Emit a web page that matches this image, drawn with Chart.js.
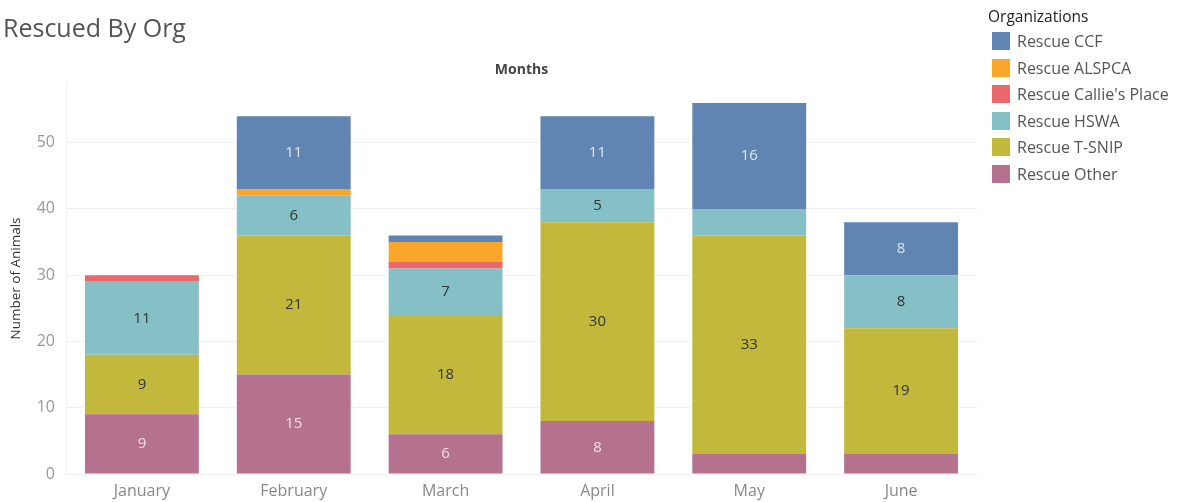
<!DOCTYPE html>
<html>
<head>
<meta charset="utf-8">
<script src="https://cdn.jsdelivr.net/npm/chart.js@4.4.1/dist/chart.umd.min.js"></script>
<style>
  html, body { margin: 0; padding: 0; background: #fff; }
  #wrap { position: relative; width: 1177px; height: 502px; }
  #legend { position: absolute; left: 988px; top: 5px; font-family: "Open Sans", sans-serif; }
  #legend .ttl { font-size: 15.5px; color: #222; height: 23px; line-height: 22px; }
  #legend .item { display: flex; align-items: center; height: 26.5px; margin-left: 4px; }
  #legend .sw { width: 18px; height: 18px; margin-right: 7px; }
  #legend .lbl { font-size: 16px; color: #555; }
</style>
</head>
<body>
<div id="wrap">
  <canvas id="rescueChart" width="1177" height="502"></canvas>
  <div id="legend"></div>
</div>
<script>
// data
const months = ['January', 'February', 'March', 'April', 'May', 'June'];
const rescueOther = [9, 15, 6, 8, 3, 3];
const rescueTSnip = [9, 21, 18, 30, 33, 19];
const rescueHswa = [11, 6, 7, 5, 4, 8];
const rescueCallies = [1, 0, 1, 0, 0, 0];
const rescueAlspca = [0, 1, 3, 0, 0, 0];
const rescueCcf = [0, 11, 1, 11, 16, 8];
const yTicks = [0, 10, 20, 30, 40, 50];

// stacking order: bottom first
const orgs = [
  { label: 'Rescue Other', data: rescueOther, color: '#b5728e', text: '#f6dbe5' },
  { label: 'Rescue T-SNIP', data: rescueTSnip, color: '#c2b93c', text: '#333333' },
  { label: 'Rescue HSWA', data: rescueHswa, color: '#86c0c7', text: '#333333' },
  { label: "Rescue Callie's Place", data: rescueCallies, color: '#e8686b', text: '#ffffff' },
  { label: 'Rescue ALSPCA', data: rescueAlspca, color: '#f9a72b', text: '#333333' },
  { label: 'Rescue CCF', data: rescueCcf, color: '#6085b2', text: '#dbe6f3' }
];

const FONT = '"Open Sans", sans-serif';

// values inside the segments (only big ones, like the original)
const segmentLabels = {
  id: 'segmentLabels',
  afterDatasetsDraw(chart) {
    const c = chart.ctx;
    c.save();
    c.font = '15px ' + FONT;
    c.textAlign = 'center';
    c.textBaseline = 'middle';
    chart.data.datasets.forEach((ds, i) => {
      const meta = chart.getDatasetMeta(i);
      meta.data.forEach((bar, j) => {
        const v = ds.data[j];
        if (v < 5) return;
        c.fillStyle = orgs[i].text;
        c.fillText(String(v), bar.x, (bar.y + bar.base) / 2);
      });
    });
    c.restore();
  }
};

const ctx = document.getElementById('rescueChart').getContext('2d');
const chart = new Chart(ctx, {
  type: 'bar',
  data: {
    labels: months,
    datasets: orgs.map(o => ({
      label: o.label,
      data: o.data,
      backgroundColor: o.color,
      borderWidth: 0,
      categoryPercentage: 1,
      barPercentage: 0.75
    }))
  },
  options: {
    responsive: false,
    animation: false,
    layout: { padding: { left: 3, right: 200, top: 0, bottom: 1 } },
    plugins: {
      legend: { display: false },
      tooltip: { enabled: false },
      title: {
        display: true,
        text: 'Rescued By Org',
        align: 'start',
        color: '#555',
        font: { family: FONT, size: 25, weight: 'normal' },
        padding: { top: 15, bottom: 8.4 }
      }
    },
    scales: {
      x: {
        stacked: true,
        grid: { display: false, drawTicks: false },
        border: { color: '#f0f0f0' },
        afterFit: s => { s.height = 27; },
        ticks: { color: '#888', font: { family: FONT, size: 16 }, padding: 8 }
      },
      x2: {
        type: 'category',
        labels: months,
        position: 'top',
        grid: { display: false, drawTicks: false },
        border: { display: false },
        ticks: { display: false },
        title: {
          display: true,
          text: 'Months',
          color: '#444',
          font: { family: FONT, size: 14, weight: 'bold' },
          padding: { top: 8.2, bottom: 4.6 }
        }
      },
      y: {
        stacked: true,
        min: 0,
        max: 59,
        afterBuildTicks: s => { s.ticks = yTicks.map(v => ({ value: v })); },
        afterFit: s => { s.width = 63; },
        grid: { color: '#f0f0f0', drawTicks: false },
        border: { color: '#f0f0f0' },
        ticks: { color: '#999', font: { family: FONT, size: 16 }, padding: 11 },
        title: {
          display: true,
          text: 'Number of Animals',
          color: '#333',
          font: { family: FONT, size: 13.5 },
          padding: { top: 5, bottom: 0 }
        }
      }
    }
  },
  plugins: [segmentLabels]
});

// legend, top item = last dataset
const legend = document.getElementById('legend');
legend.innerHTML = '<div class="ttl">Organizations</div>' +
  orgs.slice().reverse().map(o =>
    '<div class="item"><div class="sw" style="background:' + o.color + '"></div><div class="lbl">' + o.label + '</div></div>'
  ).join('');
</script>
</body>
</html>
